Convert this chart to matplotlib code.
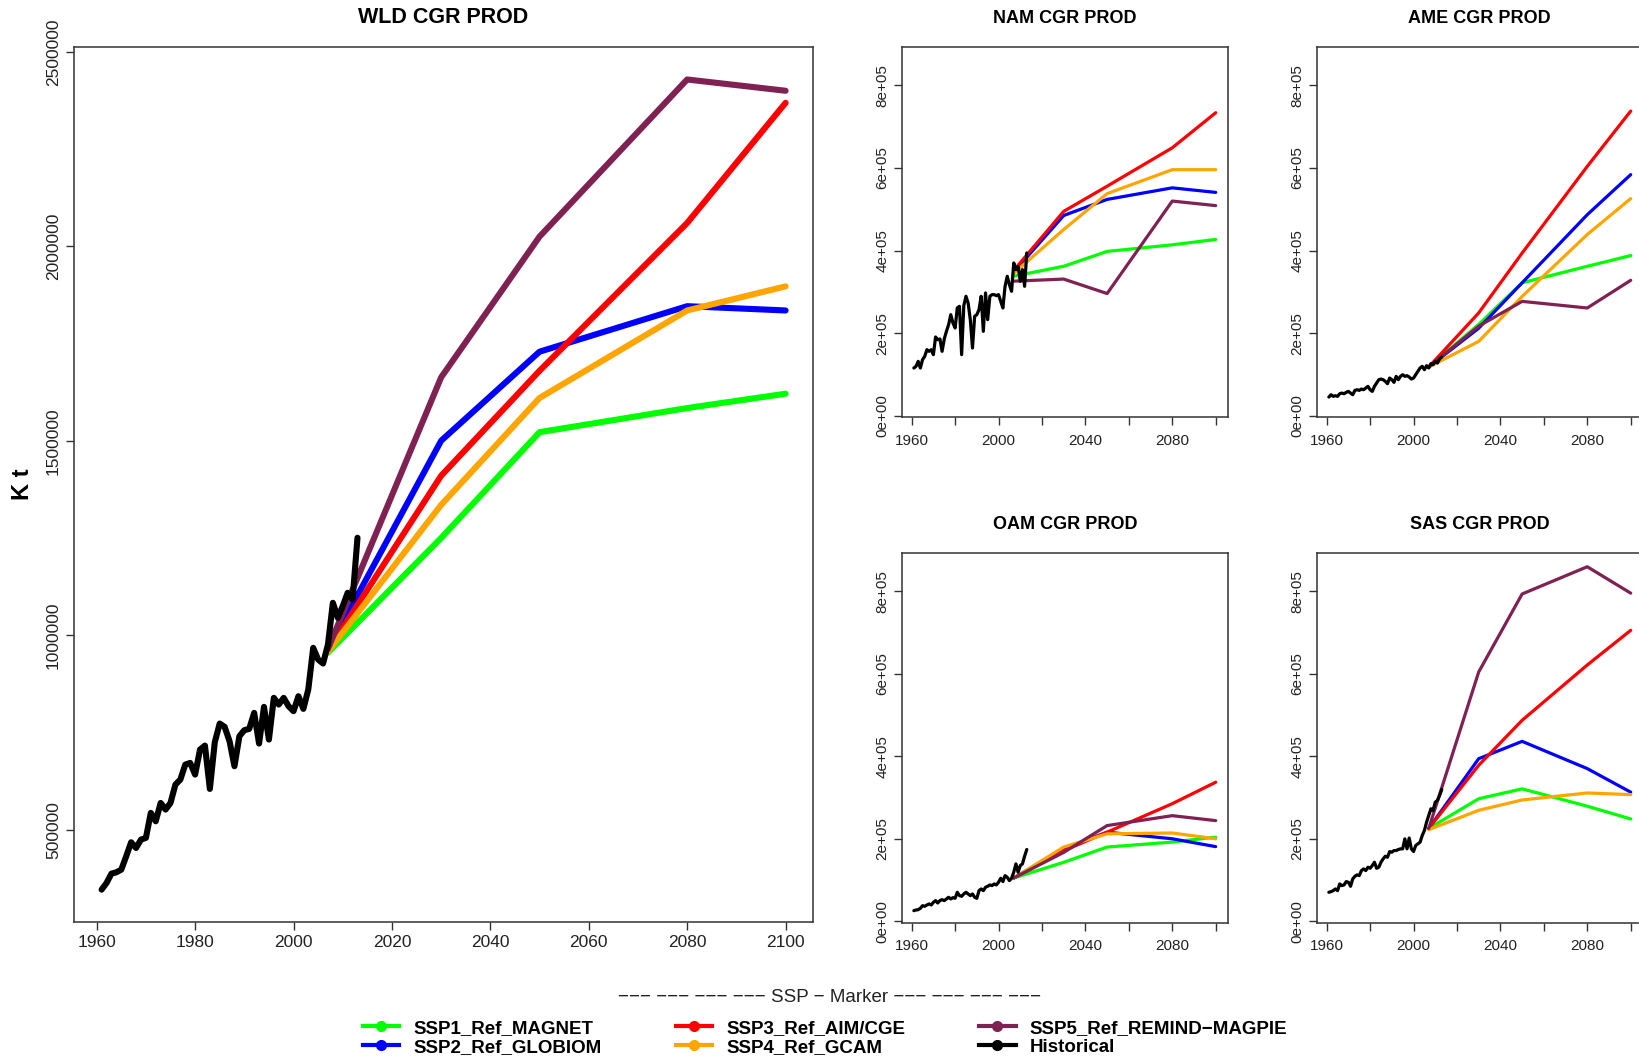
import matplotlib.pyplot as plt
from matplotlib.lines import Line2D

# historical production 1961-2013 (K t)
hist_years = list(range(1961, 2014))
wld_hist = [345600, 362800, 386800, 390200, 397100, 431400, 467400, 452800, 474300, 478600,
            542900, 521400, 568600, 551500, 568600, 615800, 628600, 667200, 671500, 641500,
            705800, 716100, 604600, 724700, 772700, 764200, 727300, 663000, 740100, 755600,
            759000, 800200, 721300, 815600, 731600, 838800, 821600, 838800, 817300, 804500,
            843000, 810500, 860200, 967400, 937400, 927100, 976000, 1083200, 1044600, 1074600,
            1108900, 1091800, 1250500]
nam_hist = [115600, 119600, 131700, 115600, 135800, 143800, 160000, 156000, 160000, 147900,
            190700, 184200, 185900, 156000, 185900, 204400, 220600, 244800, 224600, 212500,
            261000, 265100, 147900, 266700, 289300, 273100, 232700, 164000, 240800, 244800,
            257000, 289300, 204400, 297400, 232700, 289300, 293300, 293300, 290900, 293300,
            277200, 261000, 313500, 337800, 317600, 301400, 370100, 353900, 362000, 325600,
            353900, 313500, 394300]
ame_hist = [45300, 50900, 46900, 48500, 46900, 53300, 54900, 53300, 56600, 59000,
            54900, 50900, 61400, 63000, 61400, 64600, 63000, 67100, 71100, 63000,
            59000, 71100, 79200, 87300, 88900, 87300, 83200, 77600, 91300, 87300,
            80800, 95400, 87300, 95400, 99400, 95400, 97000, 93700, 88900, 91300,
            99400, 107500, 115600, 119600, 111500, 121200, 115600, 126100, 123600, 131700,
            127700, 137400, 142200]
oam_hist = [25900, 27500, 28300, 31600, 38000, 36400, 39600, 42100, 39600, 46100,
            50200, 44500, 50200, 52600, 50200, 54200, 58300, 54200, 57400, 55800,
            70400, 62300, 60700, 66300, 70400, 66300, 62300, 66300, 58300, 55800,
            74400, 78500, 74400, 82500, 85000, 88200, 86600, 90600, 88200, 94700,
            104400, 96300, 110800, 106800, 98700, 104400, 118900, 139200, 118900, 135100,
            139200, 157800, 174000]
sas_hist = [70400, 72000, 74400, 78500, 74400, 90600, 86600, 88200, 96300, 94700,
            85000, 102800, 109200, 112500, 110800, 123000, 127000, 123000, 131100, 128600,
            135100, 143200, 128600, 131100, 143200, 151300, 157800, 155300, 169100, 167500,
            171500, 171500, 174000, 175600, 175600, 199800, 175600, 201900, 175600, 169100,
            183700, 187700, 191700, 207900, 220000, 240300, 256500, 272700, 268600, 288800,
            292900, 305000, 319600]

# scenario projections
scen_years = [2007, 2030, 2050, 2080, 2100]
wld_ssp1 = [955000, 1250000, 1522000, 1584000, 1621000]
wld_ssp2 = [962000, 1500000, 1729000, 1846000, 1835000]
wld_ssp3 = [960000, 1410000, 1680000, 2060000, 2369000]
wld_ssp4 = [958000, 1335000, 1610000, 1835000, 1897000]
wld_ssp5 = [965000, 1663000, 2025000, 2429000, 2400000]

nam_ssp1 = [338000, 362000, 398000, 414000, 427000]
nam_ssp2 = [348000, 485000, 524000, 552000, 541000]
nam_ssp3 = [352000, 495000, 556000, 649000, 734000]
nam_ssp4 = [345000, 451000, 538000, 596000, 596000]
nam_ssp5 = [326000, 331000, 296000, 520000, 509000]

ame_ssp1 = [118000, 221000, 322000, 362000, 388000]
ame_ssp2 = [118000, 212000, 322000, 487000, 584000]
ame_ssp3 = [118000, 249000, 394000, 604000, 738000]
ame_ssp4 = [118000, 180000, 289000, 439000, 526000]
ame_ssp5 = [118000, 217000, 277000, 261000, 328000]

oam_ssp1 = [105000, 143000, 180000, 192000, 204000]
oam_ssp2 = [105000, 176000, 216000, 200000, 181000]
oam_ssp3 = [105000, 171000, 216000, 285000, 337000]
oam_ssp4 = [105000, 180000, 212000, 214000, 200000]
oam_ssp5 = [105000, 167000, 232000, 256000, 244000]

sas_ssp1 = [225000, 297000, 321000, 279000, 248000]
sas_ssp2 = [225000, 394000, 436000, 370000, 313000]
sas_ssp3 = [225000, 378000, 487000, 621000, 705000]
sas_ssp4 = [222000, 269000, 294000, 311000, 307000]
sas_ssp5 = [225000, 604000, 793000, 859000, 795000]

scen_labels = ["SSP1_Ref_MAGNET", "SSP2_Ref_GLOBIOM", "SSP3_Ref_AIM/CGE",
               "SSP4_Ref_GCAM", "SSP5_Ref_REMIND\u2212MAGPIE", "Historical"]
colors = ["#00ff00", "#0000ff", "#ff0000", "#ffa500", "#7f2152", "black"]

plt.rcParams['font.family'] = ['Liberation Sans', 'DejaVu Sans']
plt.rcParams['axes.edgecolor'] = '#333333'
plt.rcParams['axes.linewidth'] = 1.1

fig = plt.figure(figsize=(16.39, 10.58), dpi=100)


def draw(ax, title, hist, scen, lw):
    for vals, c in zip(scen, colors):
        ax.plot(scen_years, vals, color=c, lw=lw, solid_capstyle='round', solid_joinstyle='round')
    ax.plot(hist_years, hist, color='black', lw=lw, solid_capstyle='round', solid_joinstyle='round')
    ax.margins(x=0.04, y=0.04)
    ax.set_xticks(range(1960, 2101, 20))
    ax.tick_params(axis='both', direction='out', color='#333333', labelcolor='#222222', width=1.0)


# big world panel
ax = fig.add_axes([0.0453, 0.1285, 0.4507, 0.827])
draw(ax, "WLD CGR PROD", wld_hist, [wld_ssp1, wld_ssp2, wld_ssp3, wld_ssp4, wld_ssp5], 4.4)
ax.set_yticks([500000, 1000000, 1500000, 2000000, 2500000])
ax.set_yticklabels(["500000", "1000000", "1500000", "2000000", "2500000"], rotation=90, va='center')
ax.tick_params(axis='both', labelsize=12.5, length=5.5)
ax.tick_params(axis='y', pad=4)
ax.tick_params(axis='x', pad=4)
ax.set_title("WLD CGR PROD", fontsize=15.5, fontweight='bold', pad=17)
ax.set_ylabel("K t", fontsize=17, fontweight='bold', labelpad=9)

# regional panels
small = [
    ([0.5502, 0.6055, 0.1989, 0.35], "NAM CGR PROD", nam_hist, [nam_ssp1, nam_ssp2, nam_ssp3, nam_ssp4, nam_ssp5]),
    ([0.8034, 0.6055, 0.1989, 0.35], "AME CGR PROD", ame_hist, [ame_ssp1, ame_ssp2, ame_ssp3, ame_ssp4, ame_ssp5]),
    ([0.5502, 0.1276, 0.1989, 0.35], "OAM CGR PROD", oam_hist, [oam_ssp1, oam_ssp2, oam_ssp3, oam_ssp4, oam_ssp5]),
    ([0.8034, 0.1276, 0.1989, 0.35], "SAS CGR PROD", sas_hist, [sas_ssp1, sas_ssp2, sas_ssp3, sas_ssp4, sas_ssp5]),
]
for pos, title, hist, scen in small:
    a = fig.add_axes(pos)
    draw(a, title, hist, scen, 2.3)
    a.set_ylim(-4000, 893000)
    a.set_yticks([0, 200000, 400000, 600000, 800000])
    a.set_yticklabels(["0e+00", "2e+05", "4e+05", "6e+05", "8e+05"], rotation=90, va='center')
    a.set_xticklabels(["1960", "", "2000", "", "2040", "", "2080", ""])
    a.tick_params(axis='both', labelsize=11, length=5.8)
    a.tick_params(axis='y', pad=3)
    a.tick_params(axis='x', pad=6)
    a.set_title(title, fontsize=13, fontweight='bold', pad=17)

# legend
fig.text(0.506, 1 - 998 / 1058,
         "\u2212\u2212\u2212 \u2212\u2212\u2212 \u2212\u2212\u2212 \u2212\u2212\u2212 SSP \u2212 Marker "
         "\u2212\u2212\u2212 \u2212\u2212\u2212 \u2212\u2212\u2212 \u2212\u2212\u2212",
         fontsize=13.5, color='#222222', ha='center', va='center')
handles = [Line2D([0], [0], color=c, lw=3, marker='o', markersize=7) for c in colors]
fig.legend(handles, scen_labels, ncol=3, loc='upper left', bbox_to_anchor=(0.2155, 0.045),
           frameon=False, prop={'weight': 'bold', 'size': 13.5}, handlelength=1.95,
           handletextpad=0.75, columnspacing=3.95, labelspacing=0.1, borderpad=0,
           bbox_transform=fig.transFigure)

fig.savefig("out.png", dpi=100)
